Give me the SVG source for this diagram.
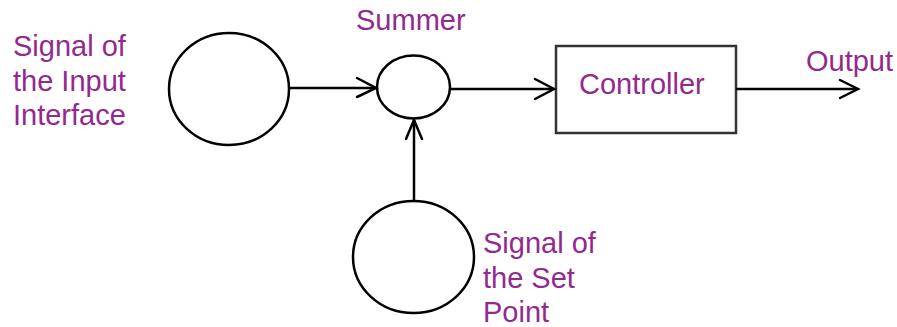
<svg xmlns="http://www.w3.org/2000/svg" width="897" height="327" viewBox="0 0 897 327">
<style>
.lbl{font-family:"Liberation Sans",Arial,sans-serif;font-size:29px;fill:#93298F}
.node{fill:#fff;stroke:#000;stroke-width:2.5}
.conn{stroke:#000;stroke-width:2.5;fill:none}
.head{stroke:#000;stroke-width:2.5;fill:none;stroke-linecap:round}
</style>
<rect width="897" height="327" fill="#fff"/>
<g id="input-signal">
<ellipse class="node" cx="229" cy="89" rx="60" ry="56"/>
<text class="lbl" x="13" y="56">Signal of</text>
<text class="lbl" x="13" y="91">the Input</text>
<text class="lbl" x="13" y="125">Interface</text>
</g>
<g id="summer">
<ellipse class="node" cx="413.5" cy="87" rx="36.5" ry="31.5"/>
<text class="lbl" x="356" y="30">Summer</text>
</g>
<g id="controller">
<rect x="556" y="46" width="180" height="87" fill="#fff" stroke="#333" stroke-width="2.5"/>
<text class="lbl" x="579" y="94">Controller</text>
</g>
<g id="setpoint">
<ellipse class="node" cx="413.5" cy="257" rx="60.5" ry="56"/>
<text class="lbl" x="483" y="253">Signal of</text>
<text class="lbl" x="483" y="288">the Set</text>
<text class="lbl" x="483" y="322">Point</text>
</g>
<g id="output">
<text class="lbl" x="806" y="71">Output</text>
</g>
<g id="connectors">
<line class="conn" x1="289" y1="88" x2="376" y2="88"/>
<polyline class="head" points="357,78 376,88 357,97"/>
<line class="conn" x1="450" y1="89" x2="554" y2="89"/>
<polyline class="head" points="535,79 554,89 535,99"/>
<line class="conn" x1="414" y1="201" x2="414" y2="120"/>
<polyline class="head" points="406,139 414,120 422,139"/>
<line class="conn" x1="736" y1="89" x2="858" y2="89"/>
<polyline class="head" points="840,80 858,89 840,98"/>
</g>
</svg>
